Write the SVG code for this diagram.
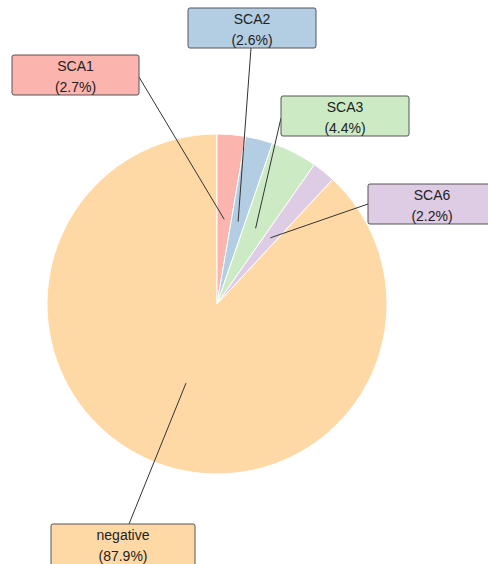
<svg xmlns="http://www.w3.org/2000/svg" width="488" height="564" viewBox="0 0 488 564">
<style>
.slice{stroke:#ffffff;stroke-width:1}
.box{stroke:#555555;stroke-width:1}
.lbl{font-family:"Liberation Sans",Arial,sans-serif;font-size:14px;fill:#222222;text-anchor:middle}
.conn line{stroke:#333333;stroke-width:1}
</style>
<rect width="488" height="564" fill="#ffffff"/>
<g id="pie">
<path id="slice-negative" class="slice" fill="#fed9a6" d="M217,304 L332.62,179.37 A170,170 0 1 1 217,134 Z"/>
<path id="slice-sca1" class="slice" fill="#fbb4ae" d="M217,304 L217,134 A170,170 0 0 1 245.70,136.45 Z"/>
<path id="slice-sca2" class="slice" fill="#b3cde3" d="M217,304 L245.70,136.45 A170,170 0 0 1 272.57,143.33 Z"/>
<path id="slice-sca3" class="slice" fill="#ccebc5" d="M217,304 L272.57,143.33 A170,170 0 0 1 314.31,164.60 Z"/>
<path id="slice-sca6" class="slice" fill="#decbe4" d="M217,304 L314.31,164.60 A170,170 0 0 1 332.62,179.37 Z"/>
</g>
<g id="connectors" class="conn">
<line x1="139" y1="77" x2="224.2" y2="219.3"/>
<line x1="251" y1="48" x2="238.1" y2="221.7"/>
<line x1="281" y1="118" x2="255.6" y2="228.3"/>
<line x1="368" y1="204" x2="270.4" y2="237.8"/>
<line x1="129" y1="524" x2="186" y2="383.1"/>
</g>
<g id="label-sca1">
<rect class="box" x="12" y="55" width="127" height="40" rx="2" fill="#fbb4ae"/>
<text class="lbl" x="75.5" y="71">SCA1</text>
<text class="lbl" x="75.5" y="92">(2.7%)</text>
</g>
<g id="label-sca2">
<rect class="box" x="188" y="8" width="128" height="40" rx="2" fill="#b3cde3"/>
<text class="lbl" x="252" y="24">SCA2</text>
<text class="lbl" x="252" y="45">(2.6%)</text>
</g>
<g id="label-sca3">
<rect class="box" x="281" y="96" width="128" height="40" rx="2" fill="#ccebc5"/>
<text class="lbl" x="345" y="112">SCA3</text>
<text class="lbl" x="345" y="133">(4.4%)</text>
</g>
<g id="label-sca6">
<rect class="box" x="368" y="184" width="128" height="40" rx="2" fill="#decbe4"/>
<text class="lbl" x="432" y="200">SCA6</text>
<text class="lbl" x="432" y="221">(2.2%)</text>
</g>
<g id="label-negative">
<rect class="box" x="51" y="524" width="144" height="42" rx="2" fill="#fed9a6"/>
<text class="lbl" x="123" y="540">negative</text>
<text class="lbl" x="123" y="561">(87.9%)</text>
</g>
</svg>
